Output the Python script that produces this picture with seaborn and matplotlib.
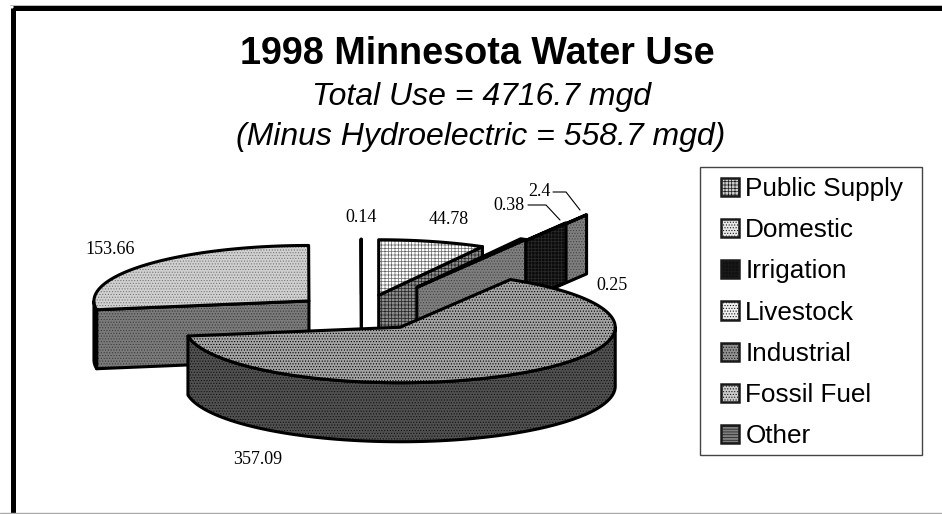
import numpy as np
import matplotlib
matplotlib.use('Agg')
import matplotlib.pyplot as plt
from matplotlib.patches import Polygon, Patch, Rectangle
import seaborn as sns

# Dados
usos = ['Public Supply', 'Domestic', 'Irrigation', 'Livestock', 'Industrial', 'Fossil Fuel', 'Other']
mgd = [44.78, 2.4, 0.38, 0.25, 357.09, 153.66, 0.14]
rotulos = ['44.78', '2.4', '0.38', '0.25', '357.09', '153.66', '0.14']
titulo = '1998 Minnesota Water Use'
sub1 = 'Total Use = 4716.7 mgd'
sub2 = '(Minus Hydroelectric = 558.7 mgd)'

# Estilo
explode = [69, 112, 187, 225, 69, 69, 69]
topo = ['#ffffff', '#e8e8e8', '#111111', '#f0f0f0', '#a4a4a4', '#d0d0d0', '#808080']
topo_hatch = ['#666666', '#999999', '#555555', '#bbbbbb', '#000000', '#777777', '#333333']
hatches = ['+++++', '......', '+++++', '......', '......', '......', '------']
lado = ['#8c8c8c', '#7e7e7e', '#0c0c0c', '#7e7e7e', '#505050', '#7a7a7a', '#555555']
lado_hatch = ['#222222', '#444444', '#2a2a2a', '#444444', '#111111', '#3c3c3c', '#222222']
lado_hatches = ['+++++', '......', '+++++', '......', '......', '......', '......']
chave = ['#cccccc', '#e8e8e8', '#111111', '#f0f0f0', '#909090', '#cccccc', '#808080']

sns.set_theme(style='white')
plt.rcParams['font.family'] = ['Liberation Sans', 'DejaVu Sans']
plt.rcParams['hatch.linewidth'] = 0.5

fig = plt.figure(figsize=(9.42, 5.14), dpi=100)
ax = fig.add_axes([0, 0, 1, 1])
ax.set_xlim(0, 942)
ax.set_ylim(514, 0)
ax.axis('off')

rx, ry, alt = 215, 55.5, 59
cx, cy = 361.5, 312.5


def face(pts, fc, hc, hatch, z, lw=2.2):
    ax.add_patch(Polygon(pts, closed=True, facecolor=fc, edgecolor=hc, hatch=hatch, linewidth=0, zorder=z))
    ax.add_patch(Polygon(pts, closed=True, fill=False, edgecolor='black', linewidth=lw, joinstyle='round', zorder=z))


def ponto(ang, ax0, ay0, dy=0):
    return ax0 + rx * np.sin(ang), ay0 - ry * np.cos(ang) + dy


# Fatias
fim = np.cumsum(mgd) / np.sum(mgd) * 2 * np.pi
ini = np.concatenate([[0], fim[:-1]])
ordem = [6, 3, 2, 0, 1, 5, 4]
for z, i in enumerate(ordem):
    a, b = ini[i], fim[i]
    meio = (a + b) / 2
    ax0 = cx + explode[i] * np.sin(meio)
    ay0 = cy - explode[i] * ry / rx * np.cos(meio)
    base = z * 3 + 2
    # paredes
    if np.sin(a) < 0:
        p = ponto(a, ax0, ay0)
        q = ponto(a, ax0, ay0, alt)
        face([(ax0, ay0), p, q, (ax0, ay0 + alt)], lado[i], lado_hatch[i], lado_hatches[i], base)
    if np.sin(b) > 0:
        p = ponto(b, ax0, ay0)
        q = ponto(b, ax0, ay0, alt)
        face([(ax0, ay0), p, q, (ax0, ay0 + alt)], lado[i], lado_hatch[i], lado_hatches[i], base)
    # borda externa
    lo, hi = max(a, np.pi / 2), min(b, 3 * np.pi / 2)
    if hi > lo:
        t = np.linspace(lo, hi, 200)
        cima = [ponto(v, ax0, ay0) for v in t]
        baixo = [ponto(v, ax0, ay0, alt) for v in t[::-1]]
        face(cima + baixo, lado[i], lado_hatch[i], lado_hatches[i], base + 1)
    # topo
    t = np.linspace(a, b, 300)
    pts = [(ax0, ay0)] + [ponto(v, ax0, ay0) for v in t]
    face(pts, topo[i], topo_hatch[i], hatches[i], base + 2)

# Rotulos
fs = dict(family='Liberation Serif', fontsize=13, color='black', ha='center', va='center', zorder=40)
ax.text(449, 220, rotulos[0], **fs)
ax.text(539.5, 192, rotulos[1], **fs)
ax.text(509, 205, rotulos[2], **fs)
ax.text(612, 285, rotulos[3], **fs)
ax.text(258, 460, rotulos[4], **fs)
ax.text(110, 249, rotulos[5], **fs)
ax.text(361, 218, rotulos[6], **fs)
ax.plot([553, 566, 580], [192, 192, 210], color='black', lw=0.8, zorder=40)
ax.plot([528, 546, 560], [205, 205, 220], color='black', lw=0.8, zorder=40)

# Titulos
ax.text(477, 54, titulo, fontsize=27.2, fontweight='bold', color='black', ha='center', va='center')
ax.text(481, 97, sub1, fontsize=23, style='italic', color='black', ha='center', va='center')
ax.text(481, 137, sub2, fontsize=23, style='italic', color='black', ha='center', va='center')

# Legenda
alcas = []
for i in range(len(usos)):
    alcas.append(Patch(facecolor=chave[i], edgecolor='#1a1a1a', hatch=hatches[i], linewidth=1.8))
ax.add_patch(Rectangle((700, 167), 221.5, 288, facecolor='white', edgecolor='#444444', linewidth=1, zorder=45))
leg = ax.legend(alcas, usos, loc='upper left', bbox_to_anchor=(721, 177), bbox_transform=ax.transData,
                fontsize=18.8, frameon=False, labelcolor='black',
                handlelength=0.68, handleheight=0.7, handletextpad=0.25, labelspacing=0.66, borderaxespad=0, borderpad=0)
leg.set_zorder(50)

# Moldura
ax.add_patch(Rectangle((12.5, 7.5), 1000, 1000, fill=False, edgecolor='black', linewidth=3.6, zorder=60))
ax.plot([0, 942], [513, 513], color='#aaaaaa', lw=1, zorder=60)
ax.plot([10, 942], [4.5, 4.5], color='#bbbbbb', lw=0.7, zorder=60)

plt.savefig('out.png', dpi=100)
